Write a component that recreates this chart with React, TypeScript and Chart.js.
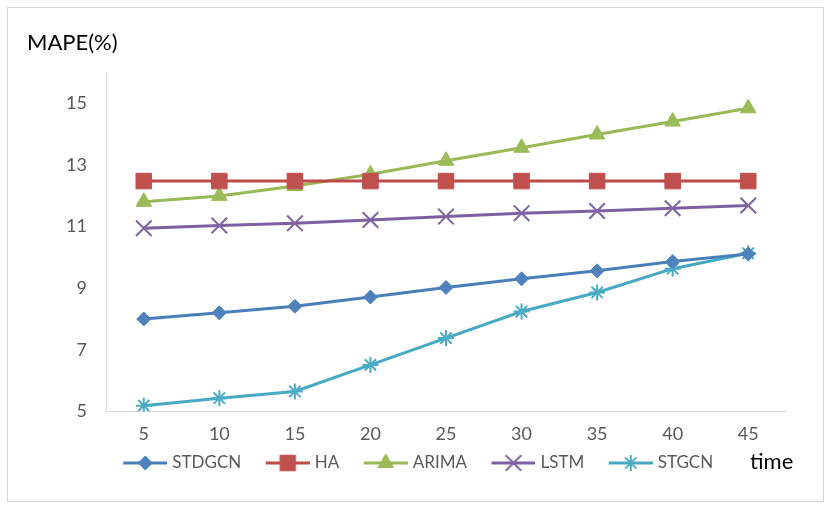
import React, { useEffect, useRef } from 'react';
import { Chart, registerables } from 'chart.js';
import { drawPoint } from 'chart.js/helpers';

Chart.register(...registerables);

const categories = ['5', '10', '15', '20', '25', '30', '35', '40', '45'];
const stdgcn = [8.0, 8.2, 8.41, 8.71, 9.02, 9.3, 9.56, 9.86, 10.11];
const ha = [12.47, 12.47, 12.47, 12.47, 12.47, 12.47, 12.47, 12.47, 12.47];
const arima = [11.8, 11.99, 12.31, 12.69, 13.13, 13.55, 13.98, 14.4, 14.83];
const lstm = [10.94, 11.03, 11.1, 11.21, 11.32, 11.43, 11.5, 11.59, 11.68];
const stgcn = [5.19, 5.43, 5.65, 6.51, 7.38, 8.24, 8.86, 9.63, 10.13];
const yTicks = [5, 7, 9, 11, 13, 15];
const yMin = 5;
const yMax = 16;

const FONT = 'Lato, "Open Sans", sans-serif';

type SeriesStyle = {
  label: string;
  data: number[];
  line: string;
  marker: string;
  pointStyle: string;
  radius: number;
  pBorder: number;
};

const series: SeriesStyle[] = [
  { label: 'STDGCN', data: stdgcn, line: '#4A7EBB', marker: '#4F81BD', pointStyle: 'rectRot', radius: 7, pBorder: 1 },
  { label: 'HA', data: ha, line: '#BE4B48', marker: '#C0504D', pointStyle: 'rect', radius: 11, pBorder: 1 },
  { label: 'ARIMA', data: arima, line: '#98B954', marker: '#9BBB59', pointStyle: 'triangle', radius: 9, pBorder: 1 },
  { label: 'LSTM', data: lstm, line: '#7D60A0', marker: '#8064A2', pointStyle: 'crossRot', radius: 11, pBorder: 2 },
  { label: 'STGCN', data: stgcn, line: '#46AAC5', marker: '#4BACC6', pointStyle: 'star', radius: 8, pBorder: 2 },
];

const LEG_BOX = 64;
const LEG_IMG = 71;
const LEG_LINE = 44;
const LEG_PAD = 1;
const LEG_FONT = 17;

function legendImage(s: SeriesStyle): HTMLCanvasElement {
  const c = document.createElement('canvas');
  c.width = LEG_IMG;
  c.height = 26;
  const ctx = c.getContext('2d')!;
  const x0 = LEG_IMG - LEG_LINE;
  ctx.strokeStyle = s.line;
  ctx.lineWidth = 3;
  ctx.beginPath();
  ctx.moveTo(x0, 13);
  ctx.lineTo(LEG_IMG, 13);
  ctx.stroke();
  ctx.fillStyle = s.marker;
  ctx.strokeStyle = s.marker;
  ctx.lineWidth = s.pBorder;
  drawPoint(ctx, { pointStyle: s.pointStyle as any, radius: s.radius, borderWidth: s.pBorder, rotation: 0 } as any, x0 + LEG_LINE / 2, 13);
  return c;
}

const timePlugin = {
  id: 'timeLabel',
  afterDraw(chart: any) {
    const lg = chart.legend;
    if (!lg) return;
    const ctx = chart.ctx;
    ctx.save();
    ctx.font = `22px ${FONT}`;
    ctx.fillStyle = '#000000';
    ctx.textAlign = 'left';
    ctx.textBaseline = 'middle';
    ctx.fillText('time', chart.chartArea.right - 36, lg.top + LEG_PAD + LEG_FONT / 2 - 1);
    ctx.restore();
  },
};

export default function App() {
  const ref = useRef<HTMLCanvasElement>(null);
  useEffect(() => {
    if (!ref.current) return;
    const images = series.map(legendImage);
    const chart = new Chart(ref.current, {
      type: 'line',
      data: {
        labels: categories,
        datasets: series.map((s) => ({
          label: s.label,
          data: s.data,
          borderColor: s.line,
          backgroundColor: s.marker,
          borderWidth: 3,
          tension: 0,
          pointStyle: s.pointStyle as any,
          pointRadius: s.radius,
          pointHoverRadius: s.radius,
          pointBackgroundColor: s.marker,
          pointBorderColor: s.marker,
          pointBorderWidth: s.pBorder,
          fill: false,
        })),
      },
      options: {
        responsive: false,
        animation: false,
        layout: { padding: { left: 19, right: 37, top: 0, bottom: 19.5 } },
        scales: {
          x: {
            type: 'category',
            offset: true,
            grid: { display: false, drawTicks: false },
            border: { display: true, color: '#d9d9d9', width: 1 },
            ticks: { padding: 12, color: '#595959', font: { family: FONT, size: 18 }, maxRotation: 0 },
            afterFit: (scale: any) => {
              scale.height = 42;
            },
          },
          y: {
            min: yMin,
            max: yMax,
            grid: { display: false, drawTicks: false },
            border: { display: true, color: '#d9d9d9', width: 1 },
            ticks: { padding: 19, color: '#595959', font: { family: FONT, size: 18 } },
            afterBuildTicks: (scale: any) => {
              scale.ticks = yTicks.map((v) => ({ value: v }));
            },
            afterFit: (scale: any) => {
              scale.width = 79;
            },
          },
        },
        plugins: {
          title: {
            display: true,
            text: 'MAPE(%)',
            align: 'start',
            color: '#000000',
            font: { family: FONT, size: 22, weight: 'normal' },
            padding: { top: 22, bottom: 15.8 },
          },
          legend: {
            display: true,
            position: 'bottom',
            labels: {
              usePointStyle: true,
              pointStyleWidth: LEG_BOX,
              padding: LEG_PAD,
              color: '#595959',
              font: { family: FONT, size: LEG_FONT },
              generateLabels: (ch: any) => {
                const items = Chart.defaults.plugins.legend.labels.generateLabels(ch);
                return items.map((it: any, i: number) => ({ ...it, pointStyle: images[i] }));
              },
            },
          },
          tooltip: { enabled: false },
        },
      },
      plugins: [timePlugin],
    });
    return () => chart.destroy();
  }, []);

  return (
    <div
      style={{
        position: 'absolute',
        left: 7,
        top: 7,
        width: 817,
        height: 495,
        border: '1px solid #d4d4d4',
        boxSizing: 'border-box',
        background: '#ffffff',
      }}
    >
      <canvas ref={ref} width={815} height={493} style={{ display: 'block' }} />
    </div>
  );
}
